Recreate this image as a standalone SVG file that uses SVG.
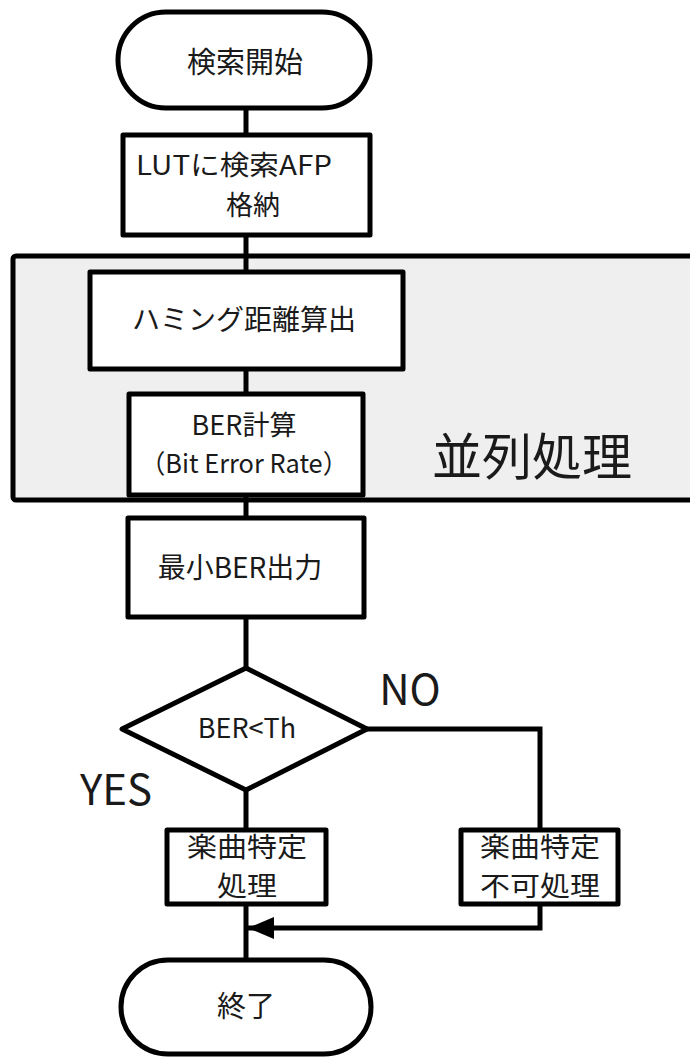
<svg xmlns="http://www.w3.org/2000/svg" width="690" height="1057" viewBox="0 0 690 1057">
<style>
.s{fill:#fff;stroke:#000;stroke-width:5;stroke-linejoin:round}
.c{fill:none;stroke:#000;stroke-width:5}
text{font-family:"Noto Sans CJK JP","Noto Sans",sans-serif;fill:#1a1a1a;text-anchor:middle}
.t{font-size:29px}
.u{font-size:27px}
</style>
<defs>
<marker id="ah" markerUnits="userSpaceOnUse" markerWidth="28" markerHeight="22" refX="26" refY="11" orient="auto">
<path d="M0,0 L26,11 L0,22 Z" fill="#000"/>
</marker>
</defs>
<rect fill="#fff" width="690" height="1057"/>
<g id="panel">
<rect x="13" y="256" width="690" height="244" rx="3" fill="#efefef" stroke="#000" stroke-width="5"/>
<text x="532" y="475" style="font-size:50px">並列処理</text>
</g>
<g id="connectors">
<line class="c" x1="246" y1="108" x2="246" y2="135"/>
<line class="c" x1="246" y1="235" x2="246" y2="272"/>
<line class="c" x1="246" y1="369" x2="246" y2="394"/>
<line class="c" x1="246" y1="495" x2="246" y2="518"/>
<line class="c" x1="246" y1="617" x2="246" y2="668"/>
<line class="c" x1="246" y1="790" x2="246" y2="830"/>
<polyline class="c" points="367,729 540,729 540,830"/>
<line class="c" x1="246" y1="904" x2="246" y2="960"/>
<polyline class="c" points="540,904 540,928 248,928" marker-end="url(#ah)"/>
<text x="410" y="705" style="font-size:42px">NO</text>
<text x="116" y="805" style="font-size:42px">YES</text>
</g>
<g id="start">
<rect class="s" x="118" y="12" width="252" height="96" rx="48"/>
<text class="t" x="245" y="73">検索開始</text>
</g>
<g id="store">
<rect class="s" x="123" y="135" width="247" height="100"/>
<text class="u" x="234" y="175" textLength="196" lengthAdjust="spacingAndGlyphs">LUTに検索AFP</text>
<text class="u" x="253" y="215">格納</text>
</g>
<g id="hamming">
<rect class="s" x="90" y="272" width="313" height="97"/>
<text x="244" y="330" style="font-size:28px">ハミング距離算出</text>
</g>
<g id="ber">
<rect class="s" x="129" y="394" width="234" height="101"/>
<text x="244" y="435" style="font-size:27px">BER計算</text>
<text x="244" y="473" style="font-size:26px" textLength="208" lengthAdjust="spacingAndGlyphs">（Bit Error Rate）</text>
</g>
<g id="minber">
<rect class="s" x="128" y="518" width="236" height="99"/>
<text x="240" y="578" style="font-size:28px">最小BER出力</text>
</g>
<g id="decision">
<polygon class="s" points="246,668 367,729 246,790 122,729"/>
<text x="247" y="738" style="font-size:27px">BER&lt;Th</text>
</g>
<g id="identify">
<rect class="s" x="167" y="830" width="159" height="74"/>
<text class="u" x="247" y="857" textLength="120" lengthAdjust="spacingAndGlyphs">楽曲特定</text>
<text class="u" x="247" y="896" textLength="60" lengthAdjust="spacingAndGlyphs">処理</text>
</g>
<g id="fail">
<rect class="s" x="461" y="830" width="157" height="74"/>
<text class="u" x="540" y="857" textLength="120" lengthAdjust="spacingAndGlyphs">楽曲特定</text>
<text class="u" x="540" y="896" textLength="120" lengthAdjust="spacingAndGlyphs">不可処理</text>
</g>
<g id="end">
<rect class="s" x="121" y="960" width="250" height="94" rx="47"/>
<text class="t" x="246" y="1017">終了</text>
</g>
</svg>
